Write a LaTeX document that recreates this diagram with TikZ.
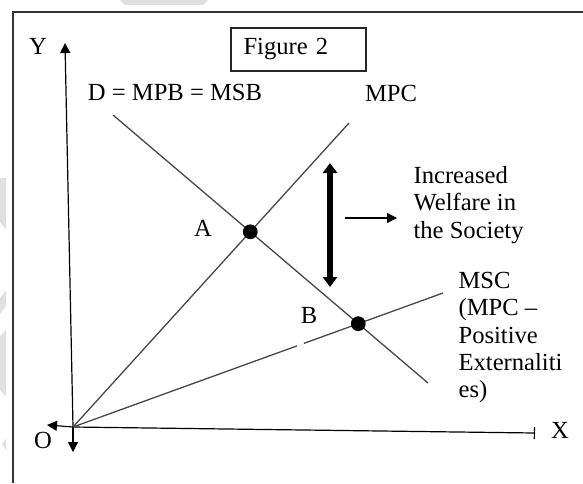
\documentclass[tikz,border=0pt]{standalone}
\usepackage{fontspec}
\setmainfont{Liberation Serif}
\usetikzlibrary{arrows.meta,calc}

\begin{document}
\begin{tikzpicture}[x=0.5pt,y=-0.5pt,line width=0.6pt,>={Triangle[length=5pt,width=5pt]},
  axis/.style={draw=black,line width=0.6pt},
  curve/.style={draw=black!72,line width=0.65pt},
  lbl/.style={font=\fontsize{12.3}{13.7}\selectfont,inner sep=0pt},
  eqdot/.style={circle,fill=black,inner sep=0pt,minimum size=7.4pt},
  wm/.style={fill=black!12,draw=none}]
\useasboundingbox (0,0) rectangle (583,483);
% ================= faint marks behind =================
\fill[wm] (120,0) -- (208,0) -- (203,5) -- (125,5) -- cycle;
\fill[wm] (0,178) -- (6,178) -- (6,230) -- (0,222) -- cycle;
\fill[wm] (0,298) -- (6,290) -- (6,306) -- (0,314) -- cycle;
\fill[wm] (0,336) -- (6,330) -- (6,397) -- (0,390) -- cycle;
\fill[wm] (2,444) -- (6,439) -- (6,450) -- cycle;
% ================= frame =================
\coordinate (fBL) at (13,483);
\coordinate (fTL) at (13,12);
\coordinate (fTR) at (583,12);
\draw[black!80,line width=0.9pt] (fBL) -- (fTL) -- (fTR);
% title box
\node[lbl,draw=black!85,line width=0.8pt,minimum width=67.5pt,minimum height=21.5pt,
      text width=55pt,align=left] (title) at (298.5,49.5) {Figure 2};
% ================= axes =================
\coordinate (O) at (73,427);
\coordinate (yTop) at (65,43);
\coordinate (xEnd) at (535,433);
\coordinate (oDown) at (73,452);
\coordinate (oLeft) at (47,425);
\draw[axis,->] (O) -- (yTop);
\draw[axis,-{Bar[width=6pt]}] (O) -- (xEnd);
\draw[axis,->] (O) -- (oDown);
\draw[axis,->] (O) -- (oLeft);
\node[lbl] (ylab) at (38,46) {Y};
\node[lbl] (xlab) at (560,430) {X};
\node[lbl] (olab) at (43,440) {O};
% ================= curves =================
\coordinate (dTop) at (113,115);
\coordinate (dBot) at (428,383);
\coordinate (mpcTop) at (349,123);
\coordinate (mscEnd) at (443,293);
\draw[curve] (dTop) -- (dBot);
\draw[curve] (O) -- (mpcTop);
\coordinate (gapA) at ($(O)!0.605!(mscEnd)$);
\coordinate (gapB) at ($(O)!0.624!(mscEnd)$);
\draw[curve] (O) -- (gapA);
\draw[curve] (gapB) -- (mscEnd);
\node[lbl] (dlab) at (175,92) {D = MPB = MSB};
\node[lbl] (mpclab) at (391,93) {MPC};
% equilibrium points
\node[eqdot] (A) at (intersection of dTop--dBot and O--mpcTop) {};
\node[eqdot] (B) at (intersection of dTop--dBot and O--mscEnd) {};
\node[lbl] (alab) at (203,228) {A};
\node[lbl] (blab) at (309,315) {B};
% ================= welfare gain =================
\coordinate (wTop) at (330,163);
\coordinate (wBot) at (330,287);
\draw[line width=2.8pt,{Triangle[length=5pt,width=7pt]}-{Triangle[length=5pt,width=7pt]}] (wTop) -- (wBot);
\coordinate (pS) at (345,218);
\coordinate (pE) at (397,218);
\draw[axis,->] (pS) -- (pE);
\node[lbl,anchor=west,align=left] (welfare) at (413,205) {Increased\\Welfare in\\the Society};
\node[lbl,anchor=west,align=left] (msclab) at (458,337.5) {MSC\\(MPC --\\Positive\\Externaliti\\es)};
\end{tikzpicture}
\end{document}
